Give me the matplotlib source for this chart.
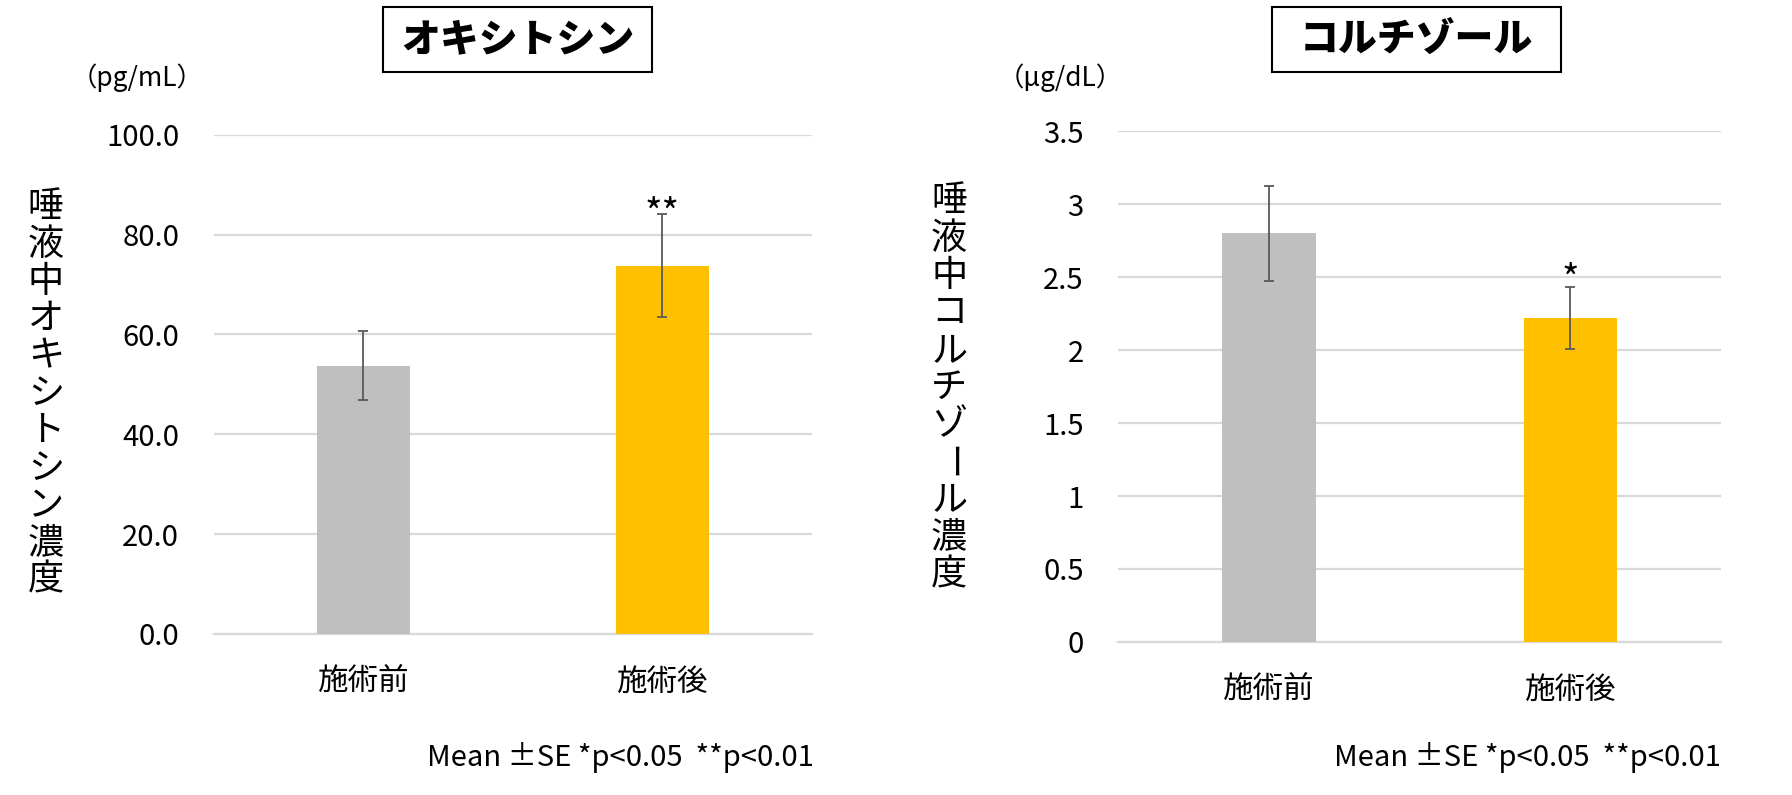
import numpy as np
import matplotlib
matplotlib.use('Agg')
import matplotlib.pyplot as plt
from matplotlib.patches import Rectangle

plt.rcParams['font.family'] = ['Noto Sans CJK JP', 'DejaVu Sans']

# データ
groups = ['施術前', '施術後']
bar_colors = ['#bfbfbf', '#ffc000']

oxy_mean = [53.7, 73.8]
oxy_se = [6.9, 10.35]
oxy_sig = ['', '**']
oxy_ticks = [0, 20, 40, 60, 80, 100]

cort_mean = [2.80, 2.22]
cort_se = [0.325, 0.215]
cort_sig = ['', '*']
cort_ticks = [0, 0.5, 1, 1.5, 2, 2.5, 3, 3.5]

note = 'Mean \u00b1SE *p<0.05  **p<0.01'

W, H = 1567.0, 696.0  # 目測した座標系


def fx(px):
    return px / W


def fy(py):
    return 1 - py / H


fig = plt.figure(figsize=(17.92, 7.95), dpi=100)


def draw_panel(rect, mean, se, sig, sig_off, ticks, fmt, title, title_box, unit, unit_xy, ylabel, ylabel_x, ylabel_top, note_x):
    ax = fig.add_axes(rect)
    x = np.arange(len(groups))
    ax.bar(x, mean, width=0.31, color=bar_colors, zorder=3,
           yerr=se, error_kw=dict(ecolor='#595959', elinewidth=1.3, capsize=3.5, capthick=1.3, zorder=4))
    for i in range(len(groups)):
        if sig[i]:
            ax.annotate(sig[i], (x[i], mean[i] + se[i]), xytext=(0, sig_off), textcoords='offset points',
                        ha='center', va='bottom', fontsize=27)
    ax.set_xlim(-0.5, 1.5)
    ax.set_ylim(ticks[0], ticks[-1])
    ax.set_yticks(ticks)
    ax.set_yticklabels([fmt(t) for t in ticks], fontsize=21)
    ax.set_xticks(x)
    ax.set_xticklabels(groups, fontsize=22)
    ax.tick_params(axis='y', length=0, pad=25)
    ax.tick_params(axis='x', length=0, pad=24)
    ax.grid(axis='y', color='#d9d9d9', linewidth=1.6, zorder=0)
    for s in ['top', 'right', 'left']:
        ax.spines[s].set_visible(False)
    ax.spines['bottom'].set_color('#d9d9d9')
    ax.spines['bottom'].set_linewidth(1.6)

    # タイトル枠
    cx, cy, bw, bh = title_box
    fig.patches.append(Rectangle((cx - bw / 2, cy - bh / 2), bw, bh, transform=fig.transFigure,
                                 fill=False, edgecolor='black', linewidth=1.5))
    fig.text(cx, cy, title, ha='center', va='center', fontsize=28, fontweight='black')

    fig.text(unit_xy[0], unit_xy[1], unit, ha='center', va='center', fontsize=19)

    # 縦書きラベル
    pitch = 32.7 / H
    for i, ch in enumerate(ylabel):
        rot = -90 if ch == 'ー' else 0
        fig.text(ylabel_x, ylabel_top - (i + 0.5) * pitch, ch, ha='center', va='center',
                 fontsize=26, rotation=rot)

    fig.text(note_x, fy(663), note, ha='right', va='center', fontsize=21)
    return ax


draw_panel([fx(187), fy(555), fx(710) - fx(187), fy(118) - fy(555)],
           oxy_mean, oxy_se, oxy_sig, -15, oxy_ticks, lambda t: '%.1f' % t,
           'オキシトシン', (fx(452.5), fy(34.5), fx(235), 57 / H),
           '（pg/mL）', (fx(120), fy(68)),
           '唾液中オキシトシン濃度', fx(40), fy(165), fx(712))

draw_panel([fx(978), fy(562), fx(1505) - fx(978), fy(115) - fy(562)],
           cort_mean, cort_se, cort_sig, -10, cort_ticks, lambda t: '%g' % t,
           'コルチゾール', (fx(1238.5), fy(34.5), fx(253), 57 / H),
           '（μg/dL）', (fx(927), fy(68)),
           '唾液中コルチゾール濃度', fx(830), fy(160), fx(1505))

fig.savefig('out.png', dpi=100, facecolor='white')
